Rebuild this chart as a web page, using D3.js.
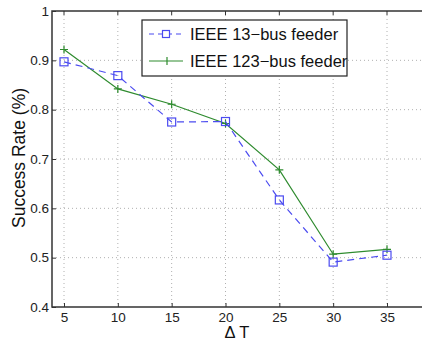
<!DOCTYPE html>
<html lang="en">
<head>
  <meta charset="UTF-8">
  <title>Success Rate vs Delta T</title>
  <script src="https://d3js.org/d3.v7.min.js"></script>
  <style>
    body { margin: 0; background: #fff; font-family: "Liberation Sans", Arial, sans-serif; }
  </style>
</head>
<body>
<script>
const width = 422;
const height = 341;

const deltaT = [5, 10, 15, 20, 25, 30, 35];
const bus13 = [0.897, 0.869, 0.775, 0.776, 0.617, 0.491, 0.505];
const bus123 = [0.922, 0.842, 0.811, 0.772, 0.678, 0.507, 0.517];
const xTicks = [5, 10, 15, 20, 25, 30, 35];
const yTicks = [0.4, 0.5, 0.6, 0.7, 0.8, 0.9, 1];
const seriesNames = ["IEEE 13\u2212bus feeder", "IEEE 123\u2212bus feeder"];

const plotLeft = 52, plotTop = 11, plotBottom = 307;

const x = d3.scaleLinear().domain([5, 35]).range([64, 387]);
const y = d3.scaleLinear().domain([0.4, 1]).range([plotBottom, plotTop]);

const svg = d3.select("body").append("svg")
  .attr("width", width)
  .attr("height", height);

// grid
const grid = svg.append("g")
  .attr("stroke", "#b0b0b0")
  .attr("stroke-width", 1)
  .attr("stroke-dasharray", "1,3");
grid.selectAll("line.vx")
  .data(xTicks)
  .join("line")
  .attr("x1", d => x(d)).attr("x2", d => x(d))
  .attr("y1", plotTop).attr("y2", plotBottom);
grid.selectAll("line.hy")
  .data(yTicks.filter(d => d > 0.4 && d < 1))
  .join("line")
  .attr("x1", plotLeft).attr("x2", width)
  .attr("y1", d => y(d)).attr("y2", d => y(d));

// axes
const xAxis = svg.append("g")
  .attr("transform", `translate(0,${plotBottom})`)
  .call(d3.axisBottom(x).tickValues(xTicks).tickSize(-4).tickPadding(5));
const yAxis = svg.append("g")
  .attr("transform", `translate(${plotLeft},0)`)
  .call(d3.axisLeft(y).tickValues(yTicks).tickSize(-4).tickPadding(3)
    .tickFormat(d => d === 1 ? "1" : d3.format(".1f")(d)));
[xAxis, yAxis].forEach(a => {
  a.select(".domain").remove();
  a.selectAll("text").attr("font-size", 13.5).attr("fill", "#222")
    .attr("font-family", "'Liberation Sans', Arial, sans-serif");
  a.selectAll("line").attr("stroke", "#333");
});
// top ticks
svg.append("g").selectAll("line")
  .data(xTicks)
  .join("line")
  .attr("x1", d => x(d)).attr("x2", d => x(d))
  .attr("y1", plotTop).attr("y2", plotTop + 4)
  .attr("stroke", "#333");

// frame
svg.append("path")
  .attr("d", `M${width},${plotTop}H${plotLeft}V${plotBottom}H${width}`)
  .attr("fill", "none")
  .attr("stroke", "#333")
  .attr("stroke-width", 1.5);

const line = d3.line().x((d, i) => x(deltaT[i])).y(d => y(d));

// green series
svg.append("path")
  .datum(bus123)
  .attr("d", line)
  .attr("fill", "none")
  .attr("stroke", "#2e8b2e")
  .attr("stroke-width", 1.2);
svg.append("g").selectAll("path")
  .data(bus123)
  .join("path")
  .attr("d", (d, i) => `M${x(deltaT[i]) - 4},${y(d)}h8M${x(deltaT[i])},${y(d) - 4}v8`)
  .attr("stroke", "#2e8b2e")
  .attr("stroke-width", 1.2);

// blue series
svg.append("path")
  .datum(bus13)
  .attr("d", line)
  .attr("fill", "none")
  .attr("stroke", "#4b4bf0")
  .attr("stroke-width", 1.2)
  .attr("stroke-dasharray", "7,5");
svg.append("g").selectAll("rect")
  .data(bus13)
  .join("rect")
  .attr("x", (d, i) => x(deltaT[i]) - 4)
  .attr("y", d => y(d) - 4)
  .attr("width", 8).attr("height", 8)
  .attr("fill", "none")
  .attr("stroke", "#4b4bf0")
  .attr("stroke-width", 1.2);

// legend
const lg = svg.append("g");
lg.append("rect")
  .attr("x", 142).attr("y", 20)
  .attr("width", 205).attr("height", 56)
  .attr("fill", "#fff")
  .attr("stroke", "#222")
  .attr("stroke-width", 1.2);
const rows = [
  { name: seriesNames[0], color: "#4b4bf0", dash: "5,4", marker: "square", yy: 34 },
  { name: seriesNames[1], color: "#2e8b2e", dash: null, marker: "plus", yy: 61 }
];
rows.forEach(r => {
  lg.append("line")
    .attr("x1", 149).attr("x2", 183)
    .attr("y1", r.yy).attr("y2", r.yy)
    .attr("stroke", r.color)
    .attr("stroke-width", 1.2)
    .attr("stroke-dasharray", r.dash);
  if (r.marker === "square") {
    lg.append("rect")
      .attr("x", 166 - 3.5).attr("y", r.yy - 3.5)
      .attr("width", 7).attr("height", 7)
      .attr("fill", "#fff").attr("stroke", r.color).attr("stroke-width", 1.2);
  } else {
    lg.append("path")
      .attr("d", `M167,${r.yy - 4}v8`)
      .attr("stroke", r.color).attr("stroke-width", 1.2);
  }
  lg.append("text")
    .attr("x", 190).attr("y", r.yy + 6)
    .attr("font-size", 16.5)
    .attr("fill", "#111")
    .text(r.name);
});

// axis labels
svg.append("text")
  .attr("transform", `translate(25,158) rotate(-90)`)
  .attr("text-anchor", "middle")
  .attr("font-size", 17.5)
  .attr("fill", "#111")
  .text("Success Rate (%)");
svg.append("text")
  .attr("x", 237)
  .attr("y", 338)
  .attr("text-anchor", "middle")
  .attr("font-size", 16.5)
  .attr("fill", "#111")
  .text("\u0394 T");
</script>
</body>
</html>
